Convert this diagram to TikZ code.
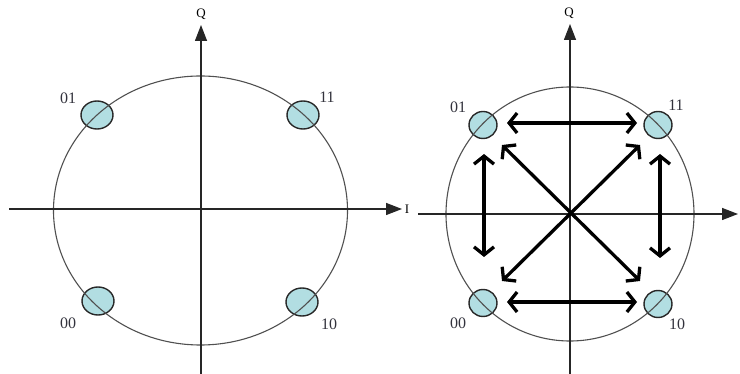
\documentclass[tikz,border=0pt]{standalone}
\usepackage{fontspec}
\setmainfont{Liberation Serif}
\usetikzlibrary{arrows.meta,shapes.geometric}
\definecolor{ptfill}{RGB}{178,222,226}
\definecolor{ptline}{RGB}{40,40,40}
\definecolor{ring}{RGB}{80,80,80}
\definecolor{lbl}{RGB}{50,50,60}
\tikzset{
  axis/.style={line width=1.4pt, black!85, -{Triangle[length=16pt,width=12pt]}},
  ringline/.style={ring, line width=1.1pt},
  pt/.style={ellipse, draw=ptline, fill=ptfill, line width=1.4pt, minimum width=32pt, minimum height=28pt, inner sep=0pt},
  ptr/.style={ellipse, draw=ptline, fill=ptfill, line width=1.4pt, minimum width=28pt, minimum height=27pt, inner sep=0pt},
  lab/.style={text=lbl, font=\fontsize{16}{16}\selectfont, inner sep=0pt},
  axlab/.style={font=\fontsize{13}{13}\selectfont, inner sep=0pt},
  trans/.style={line width=3.3pt, {Straight Barb[length=8pt,width=20pt]}-{Straight Barb[length=8pt,width=20pt]}}
}
\begin{document}
\begin{tikzpicture}[x=1pt,y=-1pt]
\useasboundingbox (0,0) rectangle (740,374);
% ---------- left diagram ----------
\coordinate (lc) at (200.5,210.5);
\coordinate (lxs) at (9,209);
\coordinate (lxe) at (402,209);
\coordinate (lys) at (201,374);
\coordinate (lye) at (201,25);
\node[pt] (l01) at (97,115) {};
\node[pt] (l11) at (303,115) {};
\node[pt] (l00) at (98,301) {};
\node[pt] (l10) at (302,302) {};
\draw[ringline] (lc) ellipse [x radius=147, y radius=134.5];
\draw[axis] (lxs) -- (lxe);
\draw[axis] (lys) -- (lye);
\node[axlab] (lI) at (407,209) {I};
\node[axlab] (lQ) at (201,14) {Q};
\node[lab] (t01) at (68,98) {01};
\node[lab] (t11) at (327,97) {11};
\node[lab] (t00) at (68,323) {00};
\node[lab] (t10) at (329,324) {10};
% ---------- right diagram ----------
\coordinate (rc) at (570,214);
\coordinate (rxs) at (418,214);
\coordinate (rxe) at (738,214);
\coordinate (rys) at (570,374);
\coordinate (rye) at (570,24);
\node[ptr] (r01) at (483,125) {};
\node[ptr] (r11) at (658,125) {};
\node[ptr] (r00) at (483,303) {};
\node[ptr] (r10) at (658,304) {};
\draw[ringline] (rc) ellipse [x radius=124, y radius=127];
\draw[axis] (rxs) -- (rxe);
\draw[axis] (rys) -- (rye);
\node[axlab] (rQ) at (569,13) {Q};
\node[lab] (u01) at (458,107) {01};
\node[lab] (u11) at (676,105) {11};
\node[lab] (u00) at (458,323) {00};
\node[lab] (u10) at (677,324) {10};
% transition arrows
\coordinate (a1) at (507,123);
\coordinate (a2) at (637,123);
\coordinate (b1) at (507,302);
\coordinate (b2) at (637,302);
\coordinate (c1) at (484,154);
\coordinate (c2) at (484,257);
\coordinate (d1) at (660,154);
\coordinate (d2) at (660,258);
\coordinate (e1) at (502,145);
\coordinate (e2) at (640,281);
\coordinate (f1) at (640,145);
\coordinate (f2) at (502,281);
\draw[trans] (a1) -- (a2);
\draw[trans] (b1) -- (b2);
\draw[trans] (c1) -- (c2);
\draw[trans] (d1) -- (d2);
\draw[trans] (e1) -- (e2);
\draw[trans] (f1) -- (f2);
\end{tikzpicture}
\end{document}
